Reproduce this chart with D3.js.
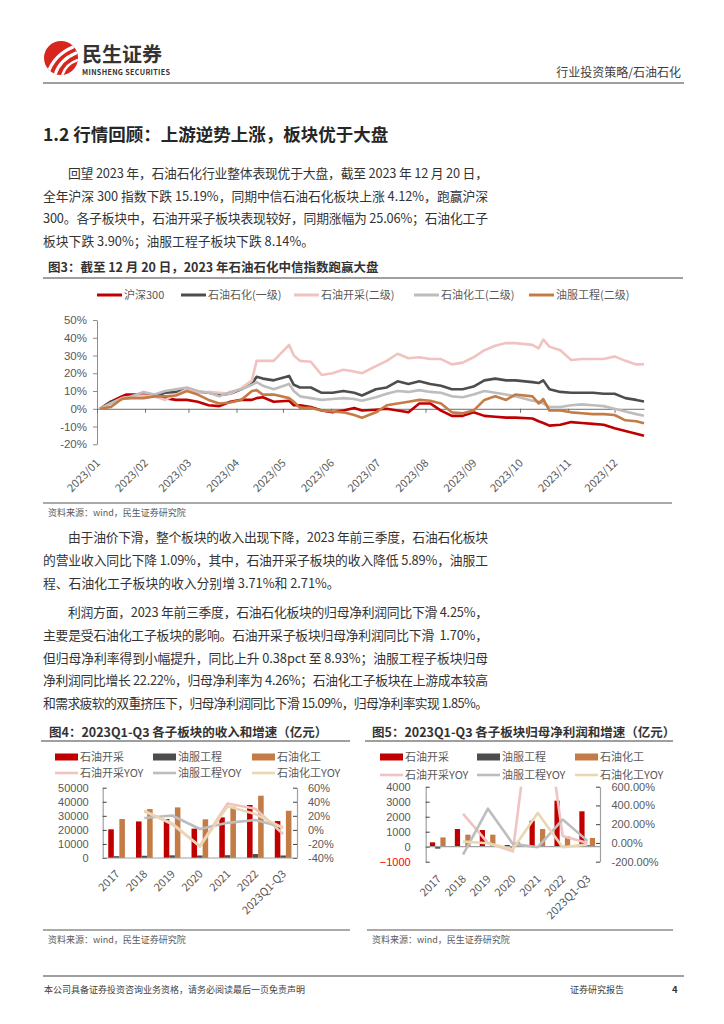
<!DOCTYPE html>
<html>
<head>
<meta charset="utf-8">
<script src="https://cdn.jsdelivr.net/npm/d3@7"></script>
<style>
	html, body { margin: 0; padding: 0; background: #fff; }
	svg { display: block; font-family: "Noto Sans CJK SC", "Noto Sans", sans-serif; }
</style>
</head>
<body>
<svg id="page" width="724" height="1024"></svg>
<script>
'use strict';

/***************************************
 * DATA
 ***************************************/

//Fig 3: cumulative change in 2023 (%), sampled about weekly
var DATES = ['2023-01-03','2023-01-10','2023-01-17','2023-01-20','2023-01-31','2023-02-07','2023-02-14',
	'2023-02-21','2023-02-28','2023-03-07','2023-03-14','2023-03-21','2023-03-28','2023-04-04','2023-04-11',
	'2023-04-14','2023-04-18','2023-04-25','2023-05-05','2023-05-08','2023-05-12','2023-05-19','2023-05-26',
	'2023-06-02','2023-06-09','2023-06-16','2023-06-21','2023-06-30','2023-07-07','2023-07-14','2023-07-21',
	'2023-07-28','2023-08-04','2023-08-11','2023-08-18','2023-08-25','2023-09-01','2023-09-08','2023-09-15',
	'2023-09-22','2023-09-28','2023-10-09','2023-10-13','2023-10-16','2023-10-20','2023-10-27','2023-11-03',
	'2023-11-10','2023-11-17','2023-11-24','2023-12-01','2023-12-08','2023-12-15','2023-12-20'];
var HS300 = [0,4,7,8,8,7,6,5,5,4,2,1.5,4,5,5,6,6.5,4,4.5,2,2,1,-1,-2,-1,0.5,-1,-0.5,0,-1,-2,3,3,-1,
	-4,-4,-2,-4,-4.5,-5,-5,-5.5,-7,-8,-9.5,-9,-7.5,-8,-8.5,-9,-11,-12.5,-14,-15.19];
var SYSH = [0,4,5.5,6,7,7,9,9.5,11,9.5,9,8,8.5,11,14,18,17,16,18.5,13.5,12,12,9,9,10,9,7.5,11,12,15.5,
	14,15.5,14,13,11,11,12.5,16,17,16,16,15,14.5,16,11,9.5,9,9,9,8.5,8.5,6,5,4.12];
var SYKC = [0,3,6,6.5,7.5,7,5,8,11,9,9.5,9,8.5,11.5,16,27,27,27,36,30,27,26.5,19,20,22,21,20,24,27,31,
	28.5,29,28,28,25,26,29,33,35.5,37,37,36,34,39,35,33,27.5,28,28,28,29.5,27,25,25.06];
var SYHG = [0,3,5.5,6,9.5,8,10,11,12,10,9,7,9.5,11,13.5,15,13,11,14,10,7,6,5,5.5,6,5.5,4.5,6.5,8.5,10,
	9.5,10.5,9.5,9,7,6.5,8,10,9,8,7,4.5,4,3,1,1,2,2.5,2,1.5,0,-1.5,-3,-3.9];
var YFGC = [0,1,5.5,6,6,7,7,7.5,10,8,5,3,3.5,5,10,10.5,8,8,6,4,0.5,0.5,-1,-1.5,-2,-3.5,-5,-2,2,3,4,5,
	4.5,3,-2,-2.5,-1,5,7,5,8,7,3,5.5,-1,-1,-2,-2.5,-3,-3,-3.5,-6.5,-7,-8.14];
var FIG3_NAMES = ['沪深300','石油石化(一级)','石油开采(二级)','石油化工(二级)','油服工程(二级)'];
var FIG3_TICKS = [-20,-10,0,10,20,30,40,50];

//Fig 4 / Fig 5: by year
var YEARS = ['2017','2018','2019','2020','2021','2022','2023Q1-Q3'];
var REV_KC = [20400,26000,27700,20900,28900,37700,26300];
var REV_YF = [1300,1600,1900,1800,2000,2800,1800];
var REV_HG = [27700,34800,36000,27500,36500,44300,33600];
var REV_KC_YOY = [null,27.5,8,-23,37.5,30,-5.89];
var REV_YF_YOY = [null,17,20.5,1.2,10,14,3.71];
var REV_HG_YOY = [null,26,9.5,-23.7,33.5,22.5,2.71];
var REV_TICKS_L = [0,10000,20000,30000,40000,50000];
var REV_TICKS_R = [-40,-20,0,20,40,60];

var NP_KC = [290,1180,1110,110,1730,3070,2360];
var NP_YF = [-130,20,40,-80,30,60,100];
var NP_HG = [620,800,800,290,1180,690,580];
var NP_KC_YOY = [null,310,0,-90,2000,75,-1.70];
var NP_YF_YOY = [null,-125,365,-10,-45,250,22.22];
var NP_HG_YOY = [null,15,-3,-68,320,-45,-15.09];
var NP_TICKS_L = [-1000,0,1000,2000,3000,4000];
var NP_TICKS_R = [-200,0,200,400,600];

var BAR_NAMES = ['石油开采','油服工程','石油化工'];
var YOY_NAMES = ['石油开采YOY','油服工程YOY','石油化工YOY'];

//Body text
var PARA1 = ['回望 2023 年，石油石化行业整体表现优于大盘，截至 2023 年 12 月 20 日，',
	'全年沪深 300 指数下跌 15.19%，同期中信石油石化板块上涨 4.12%，跑赢沪深',
	'300。各子板块中，石油开采子板块表现较好，同期涨幅为 25.06%；石油化工子',
	'板块下跌 3.90%；油服工程子板块下跌 8.14%。'];
var PARA2 = ['由于油价下滑，整个板块的收入出现下降，2023 年前三季度，石油石化板块',
	'的营业收入同比下降 1.09%，其中，石油开采子板块的收入降低 5.89%，油服工',
	'程、石油化工子板块的收入分别增 3.71%和 2.71%。'];
var PARA3 = ['利润方面，2023 年前三季度，石油石化板块的归母净利润同比下滑 4.25%，',
	'主要是受石油化工子板块的影响。石油开采子板块归母净利润同比下滑  1.70%，',
	'但归母净利率得到小幅提升，同比上升 0.38pct 至 8.93%；油服工程子板块归母',
	'净利润同比增长 22.22%，归母净利率为 4.26%；石油化工子板块在上游成本较高',
	'和需求疲软的双重挤压下，归母净利润同比下滑 15.09%，归母净利率实现 1.85%。'];

/***************************************
 * STYLE
 ***************************************/

var C_RED = '#C00000', C_DARK = '#4D4D4D', C_PINK = '#F0C3C1',
	C_GRAY = '#BDBDBD', C_BROWN = '#C47C47', C_BEIGE = '#EAD6B3',
	C_AXIS = '#8C8C8C', C_LABEL = '#595959', C_TEXT = '#333333';

var svg = d3.select('#page');

//helper: one text element
function txt(g, str, x, y, size, opts) {
	opts = opts || {};
	var t = g.append('text')
		.attr('x', x).attr('y', y)
		.attr('font-size', size)
		.attr('fill', opts.fill || C_TEXT)
		.attr('font-weight', opts.weight || 400)
		.attr('text-anchor', opts.anchor || 'start')
		.attr('xml:space', 'preserve')
		.text(str);
	if (opts.width)
		t.attr('textLength', opts.width).attr('lengthAdjust', 'spacing');
	return t;
}

//helper: justified paragraph, first line indented
function paragraph(lines, y0, step, lastFull) {
	var g = svg.append('g');
	var right = 488;
	lines.forEach(function(s, i) {
		var x = (i == 0) ? 68 : 43;
		var full = (i < lines.length-1) || lastFull;
		txt(g, s, x, y0+i*step, 12.8, {width: full ? right-x : null});
	});
}

function hline(x1, x2, y, w, col) {
	svg.append('line').attr('x1', x1).attr('x2', x2).attr('y1', y).attr('y2', y)
		.attr('stroke', col || '#7F7F7F').attr('stroke-width', w || 1.3);
}

/***************************************
 * HEADER / FOOTER
 ***************************************/

var head = svg.append('g');
head.append('clipPath').attr('id', 'logoClip')
	.append('circle').attr('cx', 61).attr('cy', 58).attr('r', 17);
head.append('circle').attr('cx', 61).attr('cy', 58).attr('r', 17).attr('fill', '#D7261E');
var sw = head.append('g').attr('clip-path', 'url(#logoClip)')
	.attr('fill', 'none').attr('stroke', '#fff').attr('stroke-linecap', 'round');
sw.append('path').attr('d', 'M48 73 C52 61 59 53 73 47').attr('stroke-width', 3.2);
sw.append('path').attr('d', 'M55 75 C58 65 64 58 76 53').attr('stroke-width', 3);
sw.append('path').attr('d', 'M62 76 C64 69 69 63 78 60').attr('stroke-width', 2.6);
txt(head, '民生证券', 82, 62, 20, {weight: 700, fill: '#333'});
txt(head, 'MINSHENG SECURITIES', 82, 75, 7.2, {weight: 700, fill: '#333', width: 88});
txt(head, '行业投资策略/石油石化', 681, 77, 12, {anchor: 'end', fill: '#404040'});
hline(43, 684, 83, 1.5);

hline(43, 684, 976, 1.5);
txt(svg, '本公司具备证券投资咨询业务资格，请务必阅读最后一页免责声明', 44, 993, 9, {fill: '#404040'});
txt(svg, '证券研究报告', 570, 993, 9, {fill: '#404040'});
txt(svg, '4', 672, 993, 9.5, {fill: '#333', weight: 700});

/***************************************
 * TEXT
 ***************************************/

txt(svg, '1.2 行情回顾：上游逆势上涨，板块优于大盘', 43, 141, 17.5, {weight: 700, fill: '#262626'});
paragraph(PARA1, 178, 22.5, false);
paragraph(PARA2, 542, 23, false);
paragraph(PARA3, 617, 22.75, true);

/***************************************
 * FIG 3
 ***************************************/

txt(svg, '图3：截至 12 月 20 日，2023 年石油石化中信指数跑赢大盘', 48, 272, 12.5, {weight: 700, fill: '#333'});
hline(43, 683, 278, 1.5);

var parseDate = d3.timeParse('%Y-%m-%d');
var fig3Series = [HS300, SYSH, SYKC, SYHG, YFGC];
var fig3Colors = [C_RED, C_DARK, C_PINK, C_GRAY, C_BROWN];

//legend
var legend3X = [97, 181, 294, 414, 529];
var leg3 = svg.append('g');
FIG3_NAMES.forEach(function(n, i) {
	leg3.append('line').attr('x1', legend3X[i]).attr('x2', legend3X[i]+25)
		.attr('y1', 295).attr('y2', 295)
		.attr('stroke', fig3Colors[i]).attr('stroke-width', 3);
	txt(leg3, n, legend3X[i]+27, 299, 11, {fill: C_LABEL});
});

var x3 = d3.scaleTime()
	.domain([new Date(2023,0,1), new Date(2023,11,20)])
	.range([97, 644]);
var y3 = d3.scaleLinear().domain([-20, 50]).range([444.3, 320]);

var ax3 = svg.append('g').attr('transform', 'translate(97,0)')
	.call(d3.axisLeft(y3).tickValues(FIG3_TICKS).tickSize(4).tickSizeOuter(0).tickPadding(6)
		.tickFormat(function(d){return d+'%';}));
ax3.selectAll('path,line').attr('stroke', C_AXIS);
ax3.selectAll('text').attr('font-size', 11.5).attr('fill', C_LABEL).attr('font-family', null);

var months = d3.timeMonth.range(new Date(2023,0,1), new Date(2023,11,2));
var bx3 = svg.append('g').attr('transform', 'translate(0,'+y3(0)+')')
	.call(d3.axisBottom(x3).tickValues(months).tickSize(4).tickSizeOuter(0).tickFormat(''));
bx3.selectAll('path,line').attr('stroke', '#6E6E6E');

var fmtMonth = d3.timeFormat('%Y/%m');
svg.append('g').selectAll('text')
	.data(months).enter().append('text')
	.attr('transform', function(d){return 'translate('+(x3(d)+1)+',461) rotate(-45)';})
	.attr('text-anchor', 'end').attr('dy', '0.35em')
	.attr('font-size', 11).attr('fill', C_LABEL)
	.text(function(d){return fmtMonth(d);});

var line3 = d3.line()
	.x(function(d){return x3(d.date);})
	.y(function(d){return y3(d.v);});
fig3Series.forEach(function(arr, i) {
	var pts = DATES.map(function(s, j){return {date: parseDate(s), v: arr[j]};});
	svg.append('path').datum(pts)
		.attr('d', line3)
		.attr('fill', 'none')
		.attr('stroke', fig3Colors[i])
		.attr('stroke-width', 2.6)
		.attr('stroke-linejoin', 'round');
});

hline(43, 672, 503, 1.3, '#8C8C8C');
txt(svg, '资料来源：wind，民生证券研究院', 48, 516, 9, {fill: C_LABEL});

/***************************************
 * FIG 4 / FIG 5 (bars + yoy lines)
 ***************************************/

function comboChart(cfg) {
	var g = svg.append('g');
	txt(g, cfg.title, cfg.titleX, 736.5, 12.5, {weight: 700, fill: '#333'});
	hline(cfg.left-2, cfg.lineEnd, 741, 1.5);

	//legend
	var barCols = [C_RED, C_DARK, C_BROWN], lineCols = [C_PINK, C_GRAY, C_BEIGE];
	BAR_NAMES.forEach(function(n, i) {
		var lx = cfg.legendX[i];
		g.append('rect').attr('x', lx).attr('y', 753.5).attr('width', 23).attr('height', 7)
			.attr('fill', barCols[i]);
		txt(g, n, lx+25, 761, 11, {fill: C_LABEL});
		g.append('line').attr('x1', lx).attr('x2', lx+23)
			.attr('y1', cfg.row2).attr('y2', cfg.row2)
			.attr('stroke', lineCols[i]).attr('stroke-width', 2.6);
		txt(g, YOY_NAMES[i], lx+25, cfg.row2+4, 11, {fill: C_LABEL});
	});

	var x = d3.scaleBand().domain(YEARS).range([cfg.x0, cfg.x1]);
	var sub = d3.scaleBand().domain([0,1,2])
		.range([cfg.subPad[0]*x.bandwidth(), cfg.subPad[1]*x.bandwidth()]);
	var yL = d3.scaleLinear().domain(cfg.domL).range([cfg.y0, cfg.y1]);
	var yR = d3.scaleLinear().domain(cfg.domR).range([cfg.y0, cfg.y1]);

	//axes
	var aL = g.append('g').attr('transform', 'translate('+cfg.x0+',0)')
		.call(d3.axisLeft(yL).tickValues(cfg.ticksL).tickSize(-4).tickSizeOuter(0)
			.tickPadding(cfg.padL).tickFormat(d3.format('d')));
	var aR = g.append('g').attr('transform', 'translate('+cfg.x1+',0)')
		.call(d3.axisRight(yR).tickValues(cfg.ticksR).tickSize(-4).tickSizeOuter(0)
			.tickPadding(cfg.padR).tickFormat(cfg.fmtR));
	[aL, aR].forEach(function(a) {
		a.select('path').attr('stroke', '#A0A0A0').attr('stroke-width', 1.2);
		a.selectAll('line').attr('stroke', '#404040');
		a.selectAll('text').attr('font-size', 11).attr('fill', C_LABEL).attr('font-family', null);
	});
	aL.selectAll('.tick text').filter(function(d){return d < 0;}).attr('fill', cfg.negColor || C_LABEL);

	//bars
	[cfg.bars[0], cfg.bars[1], cfg.bars[2]].forEach(function(arr, k) {
		g.append('g').selectAll('rect')
			.data(arr).enter().append('rect')
			.attr('x', function(d, i){return x(YEARS[i])+sub(k);})
			.attr('width', sub.bandwidth())
			.attr('y', function(d){return yL(Math.max(0, d));})
			.attr('height', function(d){return Math.abs(yL(d)-yL(0));})
			.attr('fill', barCols[k]);
	});

	g.append('line').attr('x1', cfg.x0).attr('x2', cfg.x1)
		.attr('y1', yL(0)).attr('y2', yL(0))
		.attr('stroke', '#A0A0A0').attr('stroke-width', 1.2);

	//yoy lines (clipped to the plot)
	g.append('clipPath').attr('id', cfg.id+'clip').append('rect')
		.attr('x', cfg.x0).attr('y', cfg.y1)
		.attr('width', cfg.x1-cfg.x0).attr('height', cfg.y0-cfg.y1);
	var ln = d3.line()
		.defined(function(d){return d != null;})
		.x(function(d, i){return x(YEARS[i])+x.bandwidth()/2;})
		.y(function(d){return yR(d);});
	cfg.lines.forEach(function(arr, k) {
		g.append('path').datum(arr)
			.attr('clip-path', 'url(#'+cfg.id+'clip)')
			.attr('d', ln).attr('fill', 'none')
			.attr('stroke', lineCols[k]).attr('stroke-width', 2.6)
			.attr('stroke-linejoin', 'round');
	});

	//category labels
	g.append('g').selectAll('text')
		.data(YEARS).enter().append('text')
		.attr('transform', function(d){
			return 'translate('+(x(d)+x.bandwidth()/2+1)+','+cfg.labelY+') rotate(-45)';
		})
		.attr('text-anchor', 'end').attr('dy', '0.35em')
		.attr('font-size', 11).attr('fill', C_LABEL)
		.text(function(d){return d;});

	hline(cfg.left, cfg.lineEnd, 930, 1.3, '#8C8C8C');
	txt(g, '资料来源：wind，民生证券研究院', cfg.left+5, 943, 9, {fill: C_LABEL});
}

comboChart({
	id: 'f4', title: '图4：2023Q1-Q3 各子板块的收入和增速（亿元）',
	titleX: 49, left: 43, lineEnd: 350,
	legendX: [55, 153, 252], row2: 773,
	x0: 102.7, x1: 297, y0: 858, y1: 787.7,
	subPad: [0.2, 0.8],
	domL: [0, 50000], domR: [-40, 60],
	ticksL: REV_TICKS_L, ticksR: REV_TICKS_R,
	padL: 14, padR: 11,
	fmtR: function(d){return d+'%';},
	bars: [REV_KC, REV_YF, REV_HG],
	lines: [REV_KC_YOY, REV_YF_YOY, REV_HG_YOY],
	labelY: 872
});

comboChart({
	id: 'f5', title: '图5：2023Q1-Q3 各子板块归母净利润和增速（亿元）',
	titleX: 372, left: 367, lineEnd: 673,
	legendX: [380, 477, 575], row2: 775,
	x0: 425.7, x1: 600, y0: 861.7, y1: 786.7,
	subPad: [0.17, 0.8],
	domL: [-1000, 4000], domR: [-200, 600],
	ticksL: NP_TICKS_L, ticksR: NP_TICKS_R,
	padL: 15, padR: 11.5,
	fmtR: function(d){return d.toFixed(2)+'%';},
	negColor: '#FF0000',
	bars: [NP_KC, NP_YF, NP_HG],
	lines: [NP_KC_YOY, NP_YF_YOY, NP_HG_YOY],
	labelY: 877
});
</script>
</body>
</html>
